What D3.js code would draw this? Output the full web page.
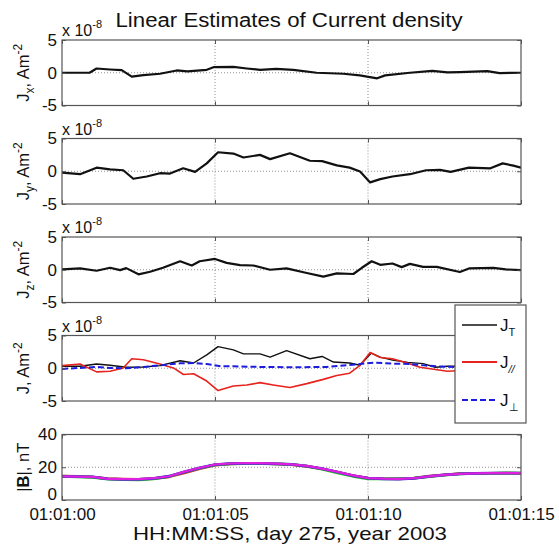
<!DOCTYPE html>
<html><head><meta charset="utf-8">
<script src="https://cdn.jsdelivr.net/npm/d3@7/dist/d3.min.js"></script>
<style>body{margin:0;background:#fff}svg{display:block;font-family:"Liberation Sans",Arial,sans-serif}</style>
</head><body><svg id="c" width="559" height="545"></svg>
<script>
// ---- data (time in seconds after 01:01:00) ----
const tJx = [0,0.9,1.13,1.57,1.95,2.28,2.66,3.2,3.75,4.1,4.73,4.95,5.6,6.04,6.47,7.0,7.56,8.32,9.2,9.73,10.3,10.56,11.37,12.1,12.6,13.0,13.9,14.3,15];
const Jx  = [0,0,0.65,0.5,0.4,-0.6,-0.35,-0.15,0.35,0.2,0.45,0.85,0.9,0.65,0.45,0.6,0.45,0,-0.15,-0.4,-0.85,-0.4,0,0.3,0.05,0.1,0.25,-0.05,0];
const tJy = [0,0.59,1.13,1.57,2.0,2.33,2.77,3.2,3.53,3.96,4.35,4.73,5.1,5.6,5.93,6.47,6.8,7.45,8.1,8.5,8.98,9.4,9.74,10.07,10.4,10.8,11.37,11.9,12.35,12.7,13.3,14.0,14.4,14.75,15];
const Jy  = [-0.2,-0.45,0.55,0.3,0.15,-1.15,-0.8,-0.3,-0.35,0.45,-0.1,1.2,2.9,2.7,2.1,2.5,1.85,2.75,1.6,1.55,0.9,0.55,-0.05,-1.7,-1.2,-0.8,-0.45,0.15,0.2,-0.1,0.55,0.45,1.2,0.85,0.55];
const tJz = [0,0.59,1.13,1.57,1.9,2.1,2.5,2.88,3.3,3.86,4.24,4.5,5.0,5.38,5.82,6.25,6.8,7.34,8.0,8.54,8.98,9.52,9.8,10.12,10.4,10.8,11.1,11.37,11.8,12.25,13.0,13.3,14.1,14.5,15];
const Jz  = [0.05,0.2,-0.15,0.3,-0.05,0.25,-0.7,-0.3,0.3,1.3,0.65,1.3,1.65,1.05,0.7,0.65,0,0.2,-0.5,-1.05,-0.55,-0.65,0.3,1.3,0.75,0.95,0.4,0.9,0.45,0.45,-0.35,0.2,0.3,0.05,-0.05];
const tJT = [0,0.59,1.13,1.57,2.1,2.66,3.2,3.86,4.3,4.73,5.1,5.6,5.93,6.47,6.8,7.34,8.1,8.5,8.87,9.4,9.74,10.1,10.4,10.8,11.3,11.8,12.2,12.6,13.2,14.0,15];
const JT  = [0.3,0.3,0.65,0.45,0.15,0.2,0.4,1.15,0.8,2.05,3.3,2.8,2.2,2.2,1.7,2.7,1.45,1.8,0.95,0.8,0.45,2.3,1.7,1.25,0.9,0.7,0.15,0.3,0.3,0.4,0.3];
const tJpar = [0,0.59,1.13,1.57,2.0,2.28,2.66,3.2,3.64,3.97,4.3,4.73,5.1,5.6,6.04,6.47,6.9,7.45,8.0,8.54,8.98,9.4,9.74,10.07,10.4,10.8,11.3,11.7,12.2,12.6,13.2,14.0,15];
const Jpar  = [0.4,0.65,-0.55,-0.45,0.05,1.45,1.3,0.65,0.05,-0.95,-0.85,-1.95,-3.4,-2.7,-2.55,-2.2,-2.55,-2.95,-2.35,-1.7,-1.1,-0.75,0.45,2.4,1.65,1.45,0.75,0.15,-0.2,-0.45,-0.3,-0.2,-0.3];
const tJperp = [0,0.59,1.13,1.57,2.1,2.66,3.2,3.86,4.3,4.73,5.2,5.6,6.47,7.56,8.65,9.3,9.74,10.2,10.8,11.37,11.9,12.45,12.84,14.0,15];
const Jperp  = [-0.1,0.05,0.2,0.05,0,0.2,0.45,0.75,0.8,0.65,0.3,0.3,0.2,0.15,0.2,0.45,0.65,0.85,0.7,0.65,0.4,0.25,0.2,0.2,0.2];
const tB = [0,0.5,1,1.5,2,2.5,3,3.5,4,4.5,5,5.5,6,6.5,7,7.5,8,8.5,9,9.5,10,10.5,11,11.5,12,12.5,13,13.5,14,14.5,15];
const B1 = [14.6,14.4,14.0,13.0,12.8,12.6,13.1,14.2,16.6,19.2,21.3,22.1,22.4,22.4,22.1,21.6,20.6,19.0,17.0,14.9,13.4,13.0,12.9,13.4,14.5,15.4,16.1,16.3,16.3,16.4,16.3];
const B2 = [14.5,14.2,13.9,12.8,12.5,12.3,12.9,14.4,17.1,19.5,21.5,22.1,22.3,22.3,22.0,21.7,20.7,18.8,16.6,14.5,12.9,12.9,13.0,13.3,14.3,15.2,15.9,16.2,16.3,16.5,16.4];
const B3 = [14.4,14.3,14.1,12.9,12.6,12.6,13.2,14.5,17.2,19.6,21.6,22.2,22.4,22.4,22.1,21.7,20.7,19.1,17.1,14.9,13.3,12.9,12.8,13.2,14.4,15.3,16.0,16.3,16.4,16.4,16.4];
const B4 = [14.4,14.3,14.1,12.9,12.7,12.7,13.3,14.5,17.3,19.7,21.7,22.3,22.5,22.5,22.2,21.8,20.8,19.2,17.2,15.0,13.4,13.0,12.9,13.3,14.4,15.3,16.0,16.3,16.4,16.4,16.4];
const xTicks = [0,5,10,15];
const xTickLabels = ["01:01:00","01:01:05","01:01:10","01:01:15"];
const jTicks = [-5,0,5];
const bTicks = [0,20,40];

// ---- layout ----
const svg = d3.select("#c");
const L = 62, R = 521, H = 65.5;
const tops = [40, 138.5, 237, 335.5, 434.5];
const x = d3.scaleLinear().domain([0,15]).range([L,R]);
const axisColor = "#555";

function drawPanel(top, ydom, yticks, gridY, series, label, showX) {
  const y = d3.scaleLinear().domain(ydom).range([top+H, top]);
  const g = svg.append("g");
  g.append("rect").attr("x",L).attr("y",top).attr("width",R-L).attr("height",H).attr("fill","#fff");
  [5,10].forEach(v => g.append("line").attr("x1",x(v)).attr("x2",x(v)).attr("y1",top).attr("y2",top+H)
    .attr("stroke","#777").attr("stroke-width",0.8).attr("stroke-dasharray","1,2"));
  g.append("line").attr("x1",L).attr("x2",R).attr("y1",y(gridY)).attr("y2",y(gridY))
    .attr("stroke","#777").attr("stroke-width",0.8).attr("stroke-dasharray","1,2");
  const clip = "clip"+Math.round(top);
  svg.append("clipPath").attr("id",clip).append("rect").attr("x",L).attr("y",top).attr("width",R-L).attr("height",H);
  series.forEach(s => {
    const line = d3.line().x((d,i)=>x(s.t[i])).y(d=>y(d));
    g.append("path").datum(s.v).attr("d",line).attr("fill","none").attr("clip-path",`url(#${clip})`)
      .attr("stroke",s.c).attr("stroke-width",s.w).attr("stroke-dasharray",s.dash||null)
      .attr("stroke-linejoin","round");
  });
  g.append("rect").attr("x",L).attr("y",top).attr("width",R-L).attr("height",H)
    .attr("fill","none").attr("stroke",axisColor).attr("stroke-width",1.2);
  const ax = d3.axisBottom(x).tickValues(xTicks).tickSize(-4).tickFormat(showX ? (d,i)=>xTickLabels[i] : "");
  const gx = g.append("g").attr("transform",`translate(0,${top+H})`).call(ax);
  gx.select(".domain").remove();
  gx.selectAll("line").attr("stroke",axisColor);
  gx.selectAll("text").attr("font-size",17).attr("fill","#111").attr("dy",null).attr("y",19.5).attr("font-family","Liberation Sans, Arial");
  const axT = d3.axisTop(x).tickValues(xTicks).tickSize(-4).tickFormat("");
  const gxt = g.append("g").attr("transform",`translate(0,${top})`).call(axT);
  gxt.select(".domain").remove(); gxt.selectAll("line").attr("stroke",axisColor);
  const ay = d3.axisLeft(y).tickValues(yticks).tickSize(-4).tickPadding(5).tickFormat(d=>String(d));
  const gy = g.append("g").attr("transform",`translate(${L},0)`).call(ay);
  gy.select(".domain").remove(); gy.selectAll("line").attr("stroke",axisColor);
  gy.selectAll("text").attr("font-size",17).attr("fill","#111").attr("font-family","Liberation Sans, Arial")
    .attr("dy", d => (showX && d === ydom[0]) ? "-0.02em" : "0.32em");
  const ayr = d3.axisRight(y).tickValues(yticks).tickSize(-4).tickFormat("");
  const gyr = g.append("g").attr("transform",`translate(${R},0)`).call(ayr);
  gyr.select(".domain").remove(); gyr.selectAll("line").attr("stroke",axisColor);
  const lt = g.append("text").attr("transform",`translate(29,${top+H/2}) rotate(-90)`)
    .attr("text-anchor","middle").attr("font-size",16.5).attr("fill","#111");
  label(lt);
  return y;
}
function exp8(top) {
  const t = svg.append("text").attr("x",L).attr("y",top-4).attr("font-size",16).attr("fill","#111");
  t.append("tspan").text("x 10");
  t.append("tspan").attr("font-size",11).attr("dy",-8).text("-8");
}
function jlab(sub) {
  return lt => {
    lt.append("tspan").text("J");
    if (sub) {
      lt.append("tspan").attr("font-size",12).attr("dy",5).text(sub);
      lt.append("tspan").attr("dy",-5).text(", Am");
    } else lt.append("tspan").text(", Am");
    lt.append("tspan").attr("font-size",12).attr("dy",-7).text("-2");
  };
}

drawPanel(tops[0],[-5,5],jTicks,0,[{t:tJx,v:Jx,c:"#111",w:2.2}],jlab("x"),false); exp8(tops[0]);
drawPanel(tops[1],[-5,5],jTicks,0,[{t:tJy,v:Jy,c:"#111",w:2.2}],jlab("y"),false); exp8(tops[1]);
drawPanel(tops[2],[-5,5],jTicks,0,[{t:tJz,v:Jz,c:"#111",w:2.2}],jlab("z"),false); exp8(tops[2]);
drawPanel(tops[3],[-5,5],jTicks,0,[
  {t:tJT,v:JT,c:"#111",w:1.4},
  {t:tJpar,v:Jpar,c:"#e8231d",w:1.6},
  {t:tJperp,v:Jperp,c:"#1c1ce0",w:2,dash:"6,3"}],jlab(null),false); exp8(tops[3]);
drawPanel(tops[4],[0,40],bTicks,20,[
  {t:tB,v:B1,c:"#e8231d",w:2.8},
  {t:tB,v:B2,c:"#22cc22",w:2.8},
  {t:tB,v:B3,c:"#3030d0",w:2.8},
  {t:tB,v:B4,c:"#e020e0",w:2.2}],
  lt => { lt.append("tspan").text("|"); lt.append("tspan").attr("font-weight","bold").text("B");
          lt.append("tspan").text("|, nT"); }, true);

svg.append("text").attr("x",289).attr("y",27).attr("text-anchor","middle").attr("font-size",20)
  .attr("fill","#111").attr("textLength",347).attr("lengthAdjust","spacingAndGlyphs")
  .text("Linear Estimates of Current density");
svg.append("text").attr("x",290).attr("y",540).attr("text-anchor","middle").attr("font-size",19)
  .attr("fill","#111").attr("textLength",314).attr("lengthAdjust","spacingAndGlyphs")
  .text("HH:MM:SS, day 275, year 2003");

const lg = svg.append("g");
lg.append("rect").attr("x",455).attr("y",305).attr("width",71).attr("height",118)
  .attr("fill","#fff").attr("stroke",axisColor).attr("stroke-width",1.2);
const leg = [{c:"#111",w:1.4,dash:null,sub:"T",y:325},
             {c:"#e8231d",w:1.8,dash:null,sub:"//",y:362},
             {c:"#1c1ce0",w:2,dash:"6,3",sub:"\u22A5",y:400}];
leg.forEach(e => {
  lg.append("line").attr("x1",462).attr("x2",497).attr("y1",e.y).attr("y2",e.y)
    .attr("stroke",e.c).attr("stroke-width",e.w).attr("stroke-dasharray",e.dash);
  const t = lg.append("text").attr("x",500).attr("y",e.y+6).attr("font-size",17).attr("fill","#111");
  t.append("tspan").text("J");
  t.append("tspan").attr("font-size",11).attr("dy",5).attr("font-style",e.sub==="//"?"italic":null).text(e.sub);
});
</script></body></html>
